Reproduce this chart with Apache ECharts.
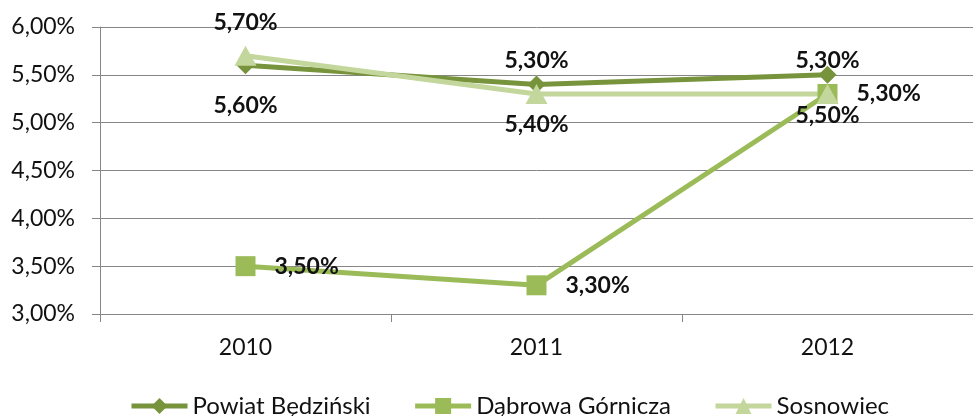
<!DOCTYPE html>
<html>
<head>
<meta charset="utf-8">
<script src="https://cdn.jsdelivr.net/npm/echarts@6/dist/echarts.min.js"></script>
<style>
  html, body { margin: 0; padding: 0; background: #fff; }
  #chart { width: 973px; height: 416px; }
</style>
</head>
<body>
<div id="chart"></div>
<script>
const years = ['2010', '2011', '2012'];
const powiat = [5.6, 5.4, 5.5];
const dabrowa = [3.5, 3.3, 5.3];
const sosnowiec = [5.7, 5.3, 5.3];

const FONT = 'Lato';
const pct = v => v.toFixed(2).replace('.', ',') + '%';

const chart = echarts.init(document.getElementById('chart'));

// one line series with Excel-like data labels
function lineSeries(name, data, color, symbol, size, pos, dist) {
  return {
    name: name,
    type: 'line',
    data: data,
    symbol: symbol,
    symbolSize: size,
    lineStyle: { color: color, width: 5 },
    itemStyle: { color: color },
    label: {
      show: true,
      position: pos,
      distance: dist,
      formatter: p => pct(p.value),
      fontFamily: FONT,
      fontWeight: 'bold',
      fontSize: 23,
      color: '#111'
    }
  };
}

chart.setOption({
  animation: false,
  textStyle: { fontFamily: FONT },
  grid: { left: 100, right: -13, top: 27, bottom: 102, containLabel: false },
  legend: {
    top: 389,
    left: 124,
    itemWidth: 56,
    itemHeight: 20,
    itemGap: 42,
    lineStyle: { width: 5 },
    textStyle: { fontFamily: FONT, fontSize: 24, color: '#111' },
    data: ['Powiat Będziński', 'Dąbrowa Górnicza', 'Sosnowiec']
  },
  xAxis: {
    type: 'category',
    data: years,
    boundaryGap: true,
    axisLine: { lineStyle: { color: '#868686', width: 1 } },
    axisTick: { show: true, length: 8, lineStyle: { color: '#868686' } },
    axisLabel: { fontFamily: FONT, fontSize: 23, color: '#111', margin: 22 }
  },
  yAxis: {
    type: 'value',
    min: 3,
    max: 6,
    interval: 0.5,
    axisLine: { show: true, lineStyle: { color: '#868686', width: 1 } },
    axisTick: { show: true, length: 8, lineStyle: { color: '#868686' } },
    splitLine: { lineStyle: { color: '#868686', width: 1 } },
    axisLabel: { fontFamily: FONT, fontSize: 23, color: '#111', margin: 25, formatter: pct }
  },
  series: [
    lineSeries('Powiat Będziński', powiat, '#77933C', 'diamond', 18, 'bottom', 20),
    lineSeries('Dąbrowa Górnicza', dabrowa, '#9BBB59', 'rect', 20, 'right', 19),
    lineSeries('Sosnowiec', sosnowiec, '#C3D69B', 'triangle', [22, 20], 'top', 12)
  ]
});
</script>
</body>
</html>
